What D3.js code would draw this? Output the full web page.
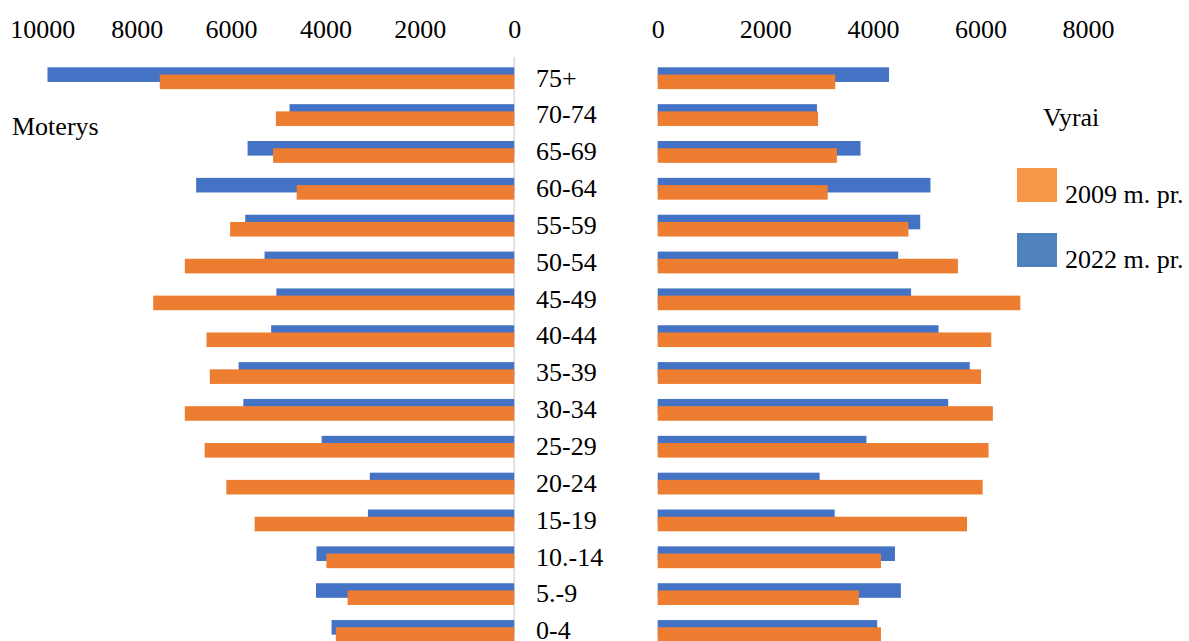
<!DOCTYPE html>
<html><head><meta charset="utf-8">
<script src="https://cdn.jsdelivr.net/npm/d3@7"></script>
<style>
html,body{margin:0;padding:0;background:#fff;}
text{font-family:"Liberation Serif","Times New Roman",serif;fill:#000;}
</style></head>
<body><svg id="c" width="1189" height="641"></svg>
<script>
const categories = ["75+","70-74","65-69","60-64","55-59","50-54","45-49","40-44","35-39","30-34","25-29","20-24","15-19","10.-14","5.-9","0-4"];
const women2009 = [7510,5050,5110,4610,6020,6980,7650,6520,6450,6980,6560,6100,5500,3980,3530,3780];
const women2022 = [9890,4760,5650,6740,5700,5290,5040,5150,5840,5740,4080,3060,3100,4190,4200,3870];
const men2009 = [3300,2980,3330,3160,4660,5580,6740,6200,6010,6230,6150,6040,5750,4150,3740,4150];
const men2022 = [4300,2960,3770,5070,4880,4470,4710,5220,5800,5400,3880,3010,3290,4410,4520,4080];
const leftTicks = [0,2000,4000,6000,8000,10000];
const rightTicks = [0,2000,4000,6000,8000];
const seriesNames = ["2009 m. pr.","2022 m. pr."];
const barColors = {"2009":"#ED7D31","2022":"#4472C4"};
const legendColors = ["#F79646","#4F81BD"];

const svg = d3.select("#c");
const FS = 26;

const xL = d3.scaleLinear().domain([0,10000]).range([514.2,42.3]);
const xR = d3.scaleLinear().domain([0,8000]).range([657.7,1088.1]);
const y = d3.scaleBand().domain(categories).range([59.8,649.4]).padding(0);
const bh = 14.6, off = 3.6;

// zero line on left panel
svg.append("line").attr("x1",xL(0)).attr("x2",xL(0)).attr("y1",57).attr("y2",641)
  .attr("stroke","#d9d9d9").attr("stroke-width",1.5);

function drawBars(data, x, color, shift, side){
  svg.append("g").selectAll("rect").data(data).join("rect")
    .attr("x",(d)=> side==="L" ? x(d) : x(0))
    .attr("width",(d)=> Math.abs(x(d)-x(0)))
    .attr("y",(d,i)=> y(categories[i]) + y.bandwidth()/2 + shift - bh/2)
    .attr("height",bh)
    .attr("fill",color);
}
drawBars(women2022, xL, barColors["2022"], -off, "L");
drawBars(women2009, xL, barColors["2009"], off, "L");
drawBars(men2022, xR, barColors["2022"], -off, "R");
drawBars(men2009, xR, barColors["2009"], off, "R");

// axes
function styleAxis(g){
  g.select(".domain").remove();
  g.selectAll(".tick line").remove();
  g.selectAll(".tick text").attr("font-size",FS).attr("font-family","Liberation Serif").attr("fill","#000").attr("dy",0).attr("y",0);
}
svg.append("g").attr("transform","translate(0,37.7)")
  .call(d3.axisTop(xL).tickValues(leftTicks).tickFormat(d3.format("d")).tickSize(0)).call(styleAxis);
svg.append("g").attr("transform","translate(0,37.7)")
  .call(d3.axisTop(xR).tickValues(rightTicks).tickFormat(d3.format("d")).tickSize(0)).call(styleAxis);

// category labels
svg.append("g").selectAll("text").data(categories).join("text")
  .attr("x",536).attr("y",d=> y(d)+y.bandwidth()/2 + 8.3)
  .attr("font-size",FS).text(d=>d);

// side titles
svg.append("text").attr("x",12).attr("y",135).attr("font-size",FS).text("Moterys");
svg.append("text").attr("x",1043).attr("y",126).attr("font-size",FS).text("Vyrai");

// legend
const lg = svg.append("g");
seriesNames.forEach((n,i)=>{
  lg.append("rect").attr("x",1017).attr("y",168+i*65).attr("width",40).attr("height",34).attr("fill",legendColors[i]);
  lg.append("text").attr("x",1065).attr("y",203+i*65).attr("font-size",FS).text(n);
});
</script></body></html>
